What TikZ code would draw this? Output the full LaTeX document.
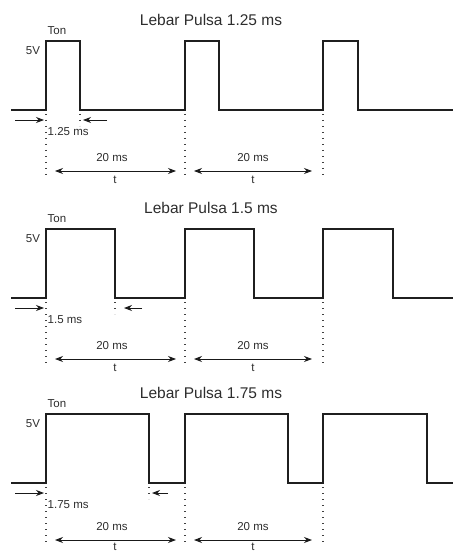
\documentclass[tikz,border=0pt]{standalone}
\usepackage{fontspec}
\setmainfont{Liberation Sans}
\usetikzlibrary{arrows.meta}
\definecolor{txt}{RGB}{45,45,45}
\begin{document}
\begin{tikzpicture}[x=1pt,y=-1pt,
 wave/.style={line width=1.8pt, line join=miter, draw=black!88},
 arr/.style={line width=0.9pt, draw=black!90, -{Stealth[length=8pt,width=6pt]}},
 dbl/.style={line width=0.9pt, draw=black!90, {Stealth[length=8pt,width=6pt]}-{Stealth[length=8pt,width=6pt]}},
 dots/.style={line width=1.4pt, dash pattern=on 1.4pt off 4.6pt, draw=black!75},
 ttl/.style={font=\fontsize{15.5}{18}\selectfont, text=txt, inner sep=0pt},
 lbl/.style={font=\fontsize{11.5}{13}\selectfont, text=txt, inner sep=0pt},
]
\useasboundingbox (0,0) rectangle (453,553);
\foreach \i/\low/\fx/\tip/\tail/\lab/\ay/\ty in {1/110/80/83/107/1.25/61/70, 2/298/115/124/142/1.5/61/70, 3/483/149/152/168/1.75/57/64} {
  \pgfmathsetmacro\high{\low-69}
  \pgfmathsetmacro\fb{\fx+139}
  \pgfmathsetmacro\fc{\fx+278}
  % waveform
  \draw[wave] (11,\low) -- (46,\low) -- (46,\high) -- (\fx,\high) -- (\fx,\low)
     -- (185,\low) -- (185,\high) -- (\fb,\high) -- (\fb,\low)
     -- (323,\low) -- (323,\high) -- (\fc,\high) -- (\fc,\low) -- (453,\low);
  % dotted guides
  \coordinate (p\i-d1s) at (46,\low+4);
  \coordinate (p\i-d1e) at (46,\low+\ay+5);
  \coordinate (p\i-d2s) at (185,\low+4);
  \coordinate (p\i-d2e) at (185,\low+\ay+5);
  \coordinate (p\i-d3s) at (323,\low+4);
  \coordinate (p\i-d3e) at (323,\low+\ay+5);
  \coordinate (p\i-dfs) at (\fx,\low+4);
  \coordinate (p\i-dfe) at (\fx,\low+16);
  \draw[dots] (p\i-d1s) -- (p\i-d1e);
  \draw[dots] (p\i-d2s) -- (p\i-d2e);
  \draw[dots] (p\i-d3s) -- (p\i-d3e);
  \draw[dots] (p\i-dfs) -- (p\i-dfe);
  % width arrows
  \coordinate (p\i-la) at (15,\low+10);
  \coordinate (p\i-lb) at (44,\low+10);
  \coordinate (p\i-ra) at (\tail,\low+10);
  \coordinate (p\i-rb) at (\tip,\low+10);
  \draw[arr] (p\i-la) -- (p\i-lb);
  \draw[arr] (p\i-ra) -- (p\i-rb);
  % period arrows
  \coordinate (p\i-a1) at (55,\low+\ay);
  \coordinate (p\i-a2) at (176,\low+\ay);
  \coordinate (p\i-a3) at (194,\low+\ay);
  \coordinate (p\i-a4) at (312,\low+\ay);
  \draw[dbl] (p\i-a1) -- (p\i-a2);
  \draw[dbl] (p\i-a3) -- (p\i-a4);
  % labels
  \node[ttl] (p\i-title) at (211,\low-90) {Lebar Pulsa \lab\ ms};
  \node[lbl] (p\i-ton) at (57,\low-79) {Ton};
  \node[lbl] (p\i-v) at (33,\low-59) {5V};
  \node[lbl, anchor=west] (p\i-w) at (47.5,\low+22) {\lab\ ms};
  \node[lbl] (p\i-p1) at (112,\low+\ay-13) {20 ms};
  \node[lbl] (p\i-t1) at (115,\low+\ty) {t};
  \node[lbl] (p\i-p2) at (253,\low+\ay-13) {20 ms};
  \node[lbl] (p\i-t2) at (253,\low+\ty) {t};
}
\end{tikzpicture}
\end{document}
